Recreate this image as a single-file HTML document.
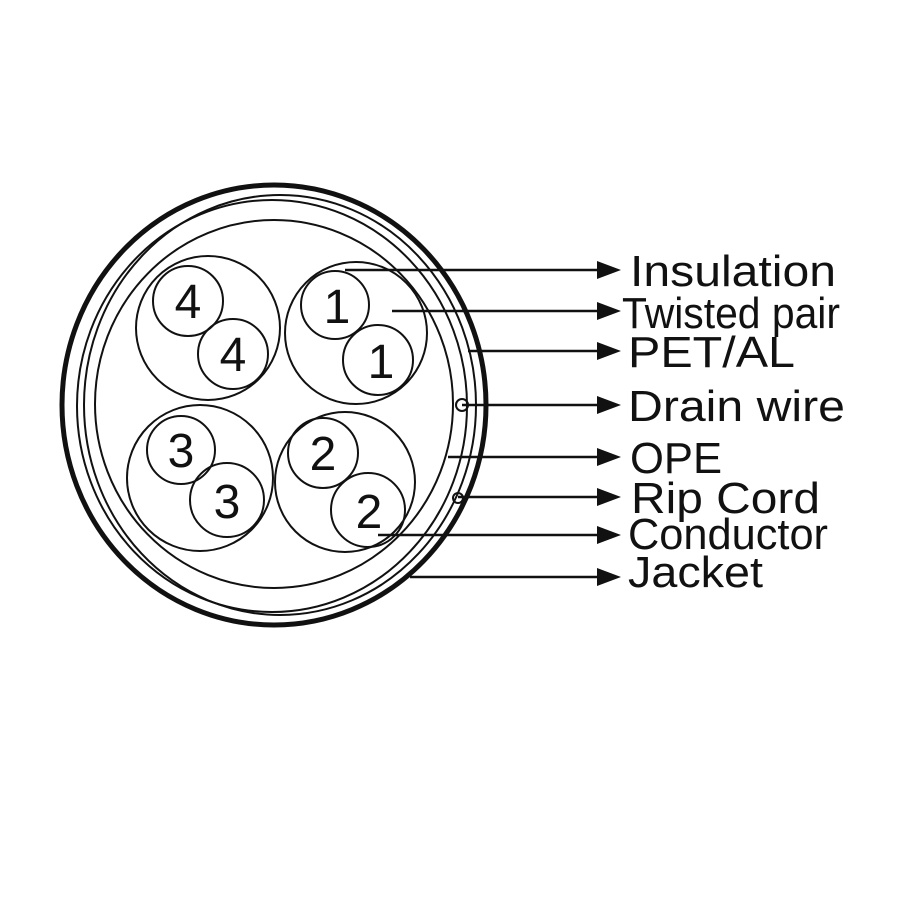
<!DOCTYPE html>
<html><head><meta charset="utf-8"><style>html,body{margin:0;padding:0;background:#fff}</style></head>
<body>
<svg width="900" height="900" viewBox="0 0 900 900" xmlns="http://www.w3.org/2000/svg">
<rect width="900" height="900" fill="#fff"/>
<g fill="none" stroke="#111">
<ellipse cx="274" cy="405" rx="212" ry="220" stroke-width="5"/>
<ellipse cx="272" cy="406" rx="195" ry="206" stroke-width="2"/>
<ellipse cx="280" cy="405" rx="196" ry="210" stroke-width="2"/>
<ellipse cx="274" cy="404" rx="179" ry="184" stroke-width="2"/>
<g stroke-width="2">
<circle cx="208" cy="328" r="72"/>
<circle cx="356" cy="333" r="71"/>
<circle cx="200" cy="478" r="73"/>
<circle cx="345" cy="482" r="70"/>
<circle cx="188" cy="301" r="35"/>
<circle cx="233" cy="354" r="35"/>
<circle cx="335" cy="305" r="34"/>
<circle cx="378" cy="360" r="35"/>
<circle cx="181" cy="450" r="34"/>
<circle cx="227" cy="500" r="37"/>
<circle cx="323" cy="453" r="35"/>
<circle cx="368" cy="510" r="37"/>
<circle cx="462" cy="405" r="6"/>
<circle cx="458" cy="498" r="5"/>
</g>
<g stroke-width="2.5">
<line x1="345" y1="270" x2="600" y2="270"/>
<line x1="392" y1="311" x2="600" y2="311"/>
<line x1="468" y1="351" x2="600" y2="351"/>
<line x1="462" y1="405" x2="600" y2="405"/>
<line x1="448" y1="457" x2="600" y2="457"/>
<line x1="458" y1="497" x2="600" y2="497"/>
<line x1="378" y1="535" x2="600" y2="535"/>
<line x1="410" y1="577" x2="600" y2="577"/>
</g>
</g>
<g fill="#111">
<polygon points="597,261 621,270 597,279"/>
<polygon points="597,302 621,311 597,320"/>
<polygon points="597,342 621,351 597,360"/>
<polygon points="597,396 621,405 597,414"/>
<polygon points="597,448 621,457 597,466"/>
<polygon points="597,488 621,497 597,506"/>
<polygon points="597,526 621,535 597,544"/>
<polygon points="597,568 621,577 597,586"/>
</g>
<g font-family="Liberation Sans, sans-serif" font-size="48" fill="#111" text-anchor="middle">
<text x="188" y="318">4</text><text x="233" y="371">4</text>
<text x="337" y="323">1</text><text x="381" y="378">1</text>
<text x="181" y="467">3</text><text x="227" y="518">3</text>
<text x="323" y="470">2</text><text x="369" y="528">2</text>
</g>
<g font-family="Liberation Sans, sans-serif" font-size="44" fill="#111">
<text x="630" y="286" textLength="206" lengthAdjust="spacingAndGlyphs">Insulation</text>
<text x="622" y="328" textLength="218" lengthAdjust="spacingAndGlyphs">Twisted pair</text>
<text x="628" y="367" textLength="167" lengthAdjust="spacingAndGlyphs">PET/AL</text>
<text x="628" y="421" textLength="217" lengthAdjust="spacingAndGlyphs">Drain wire</text>
<text x="630" y="473" textLength="92" lengthAdjust="spacingAndGlyphs">OPE</text>
<text x="631" y="513" textLength="189" lengthAdjust="spacingAndGlyphs">Rip Cord</text>
<text x="628" y="549" textLength="200" lengthAdjust="spacingAndGlyphs">Conductor</text>
<text x="628" y="587" textLength="135" lengthAdjust="spacingAndGlyphs">Jacket</text>
</g>
</svg>
</body></html>
